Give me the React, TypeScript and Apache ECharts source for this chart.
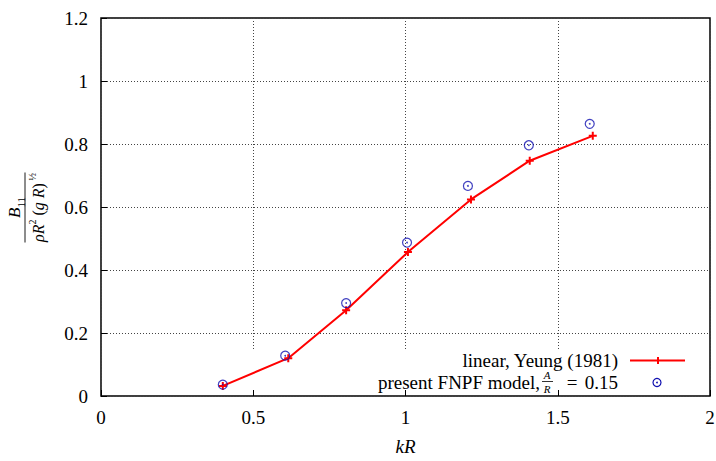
import React, { useEffect, useRef } from 'react';
import * as echarts from 'echarts';

const kRLinear = [0.4, 0.615, 0.805, 1.008, 1.215, 1.408, 1.615];
const bLinear = [0.032, 0.12, 0.272, 0.457, 0.624, 0.747, 0.826];
const kRFnpf = [0.4, 0.605, 0.805, 1.005, 1.205, 1.405, 1.605];
const bFnpf = [0.036, 0.128, 0.295, 0.487, 0.667, 0.796, 0.864];
const legendNames = ['linear, Yeung (1981)', 'present FNPF model,'];

const FONT = 'serif';
const PLUS = 'path://M3,0H5V3H8V5H5V8H3V5H0V3H3Z';
const RED = '#ff0000';
const BLUE = '#1010b0';

export default function App() {
  const ref = useRef<HTMLDivElement>(null);
  useEffect(() => {
    if (!ref.current) return;
    const chart = echarts.init(ref.current, null, { renderer: 'svg' });
    const lin = kRLinear.map((x, i) => [x, bLinear[i]]);
    const fnpf = kRFnpf.map((x, i) => [x, bFnpf[i]]);
    const gridLine = { show: true, lineStyle: { color: '#444', type: [1, 2] as any, width: 1 } };
    const txt = (x: number, y: number, text: string, size: number, align: string, italic = false) => ({
      type: 'text', z: 10, x, y,
      style: { text, fontFamily: FONT, fontSize: size, fontStyle: italic ? 'italic' : 'normal', fill: '#000', align, verticalAlign: 'middle' },
    });
    const option: any = {
      animation: false,
      textStyle: { fontFamily: FONT },
      grid: {
        left: 101, right: 6, top: 18, bottom: 65, show: true,
        borderColor: '#000', borderWidth: 1.5, backgroundColor: 'transparent',
        containLabel: false, outerBoundsMode: 'none',
      },
      xAxis: [
        {
          type: 'value', min: 0, max: 2, interval: 0.5, z: 0,
          axisLine: { show: false }, axisTick: { show: false }, axisLabel: { show: false },
          splitLine: gridLine,
        },
        {
          type: 'value', min: 0, max: 2, interval: 0.5, z: 3, position: 'bottom',
          axisLine: { show: false },
          axisTick: { show: true, inside: true, length: 6, lineStyle: { color: '#000', width: 1 } },
          axisLabel: { show: true, fontFamily: FONT, fontSize: 19, color: '#000', margin: 12 },
          splitLine: { show: false },
          name: 'kR', nameLocation: 'middle', nameGap: 41,
          nameTextStyle: { fontFamily: FONT, fontStyle: 'italic', fontSize: 19, color: '#000' },
        },
      ],
      yAxis: {
        type: 'value', min: 0, max: 1.2, interval: 0.2,
        axisLine: { show: false },
        axisTick: { show: true, inside: true, length: 6, lineStyle: { color: '#000', width: 1 } },
        axisLabel: { fontFamily: FONT, fontSize: 19, color: '#000', margin: 13 },
        splitLine: gridLine,
      },
      series: [
        {
          type: 'line', name: legendNames[0], data: lin, xAxisIndex: 1, z: 4,
          lineStyle: { color: RED, width: 2 }, itemStyle: { color: RED },
          symbol: PLUS, symbolSize: 8, showSymbol: true,
        },
        {
          type: 'scatter', name: legendNames[1], data: fnpf, xAxisIndex: 1, z: 5,
          symbol: 'circle', symbolSize: 9,
          itemStyle: { color: 'rgba(0,0,0,0)', borderColor: BLUE, borderWidth: 1.2 },
        },
        {
          type: 'scatter', data: fnpf, xAxisIndex: 1, z: 5, silent: true,
          symbol: 'circle', symbolSize: 1.8, itemStyle: { color: BLUE },
        },
      ],
      graphic: {
        elements: [
          { type: 'rect', z: 1, shape: { x: 102.5, y: 349, width: 606, height: 46 }, style: { fill: '#fff' }, silent: true },
          // legend row 1
          txt(618, 360, legendNames[0], 19, 'right'),
          { type: 'line', z: 10, shape: { x1: 630, y1: 360.5, x2: 685, y2: 360.5 }, style: { stroke: RED, lineWidth: 2 } },
          { type: 'line', z: 10, shape: { x1: 658, y1: 357, x2: 658, y2: 364 }, style: { stroke: RED, lineWidth: 2 } },
          // legend row 2
          txt(618, 382, '0.15', 19, 'right'),
          txt(572, 382, '=', 19, 'center'),
          txt(547, 375, 'A', 11, 'center', true),
          { type: 'line', z: 10, shape: { x1: 542, y1: 381.5, x2: 553, y2: 381.5 }, style: { stroke: '#000', lineWidth: 0.8 } },
          txt(547, 389, 'R', 11, 'center', true),
          txt(540, 382, legendNames[1], 19, 'right'),
          { type: 'circle', z: 10, shape: { cx: 657, cy: 382.5, r: 4 }, style: { fill: 'none', stroke: BLUE, lineWidth: 1.2 } },
          { type: 'circle', z: 10, shape: { cx: 657, cy: 382.5, r: 0.9 }, style: { fill: BLUE } },
          // y-axis label (rotated fraction)
          {
            type: 'group', x: 25, y: 207.5, rotation: Math.PI / 2, z: 10,
            children: [
              { type: 'line', shape: { x1: -35, y1: 0, x2: 35, y2: 0 }, style: { stroke: '#000', lineWidth: 0.9 } },
              {
                type: 'text', x: 0, y: -2,
                style: {
                  text: '{i|B}{s|11}', align: 'center', verticalAlign: 'bottom', fontFamily: FONT,
                  rich: {
                    i: { fontFamily: FONT, fontStyle: 'italic', fontSize: 17, lineHeight: 17, verticalAlign: 'bottom' },
                    s: { fontFamily: FONT, fontSize: 11, lineHeight: 12, verticalAlign: 'bottom', padding: [0, 0, -3, 0] },
                  },
                },
              },
              {
                type: 'text', x: 0, y: 2,
                style: {
                  text: '{i|ρR}{p|2}{n| (}{i|g R}{n|)}{p| ½}', align: 'center', verticalAlign: 'top', fontFamily: FONT,
                  rich: {
                    i: { fontFamily: FONT, fontStyle: 'italic', fontSize: 16, lineHeight: 19, verticalAlign: 'bottom' },
                    n: { fontFamily: FONT, fontSize: 16, lineHeight: 19, verticalAlign: 'bottom' },
                    p: { fontFamily: FONT, fontSize: 10, lineHeight: 19, verticalAlign: 'top' },
                  },
                },
              },
            ],
          },
        ],
      },
    };
    chart.setOption(option);
    return () => chart.dispose();
  }, []);
  return <div ref={ref} style={{ width: 716, height: 461, position: 'absolute', left: 0, top: 0 }} />;
}
